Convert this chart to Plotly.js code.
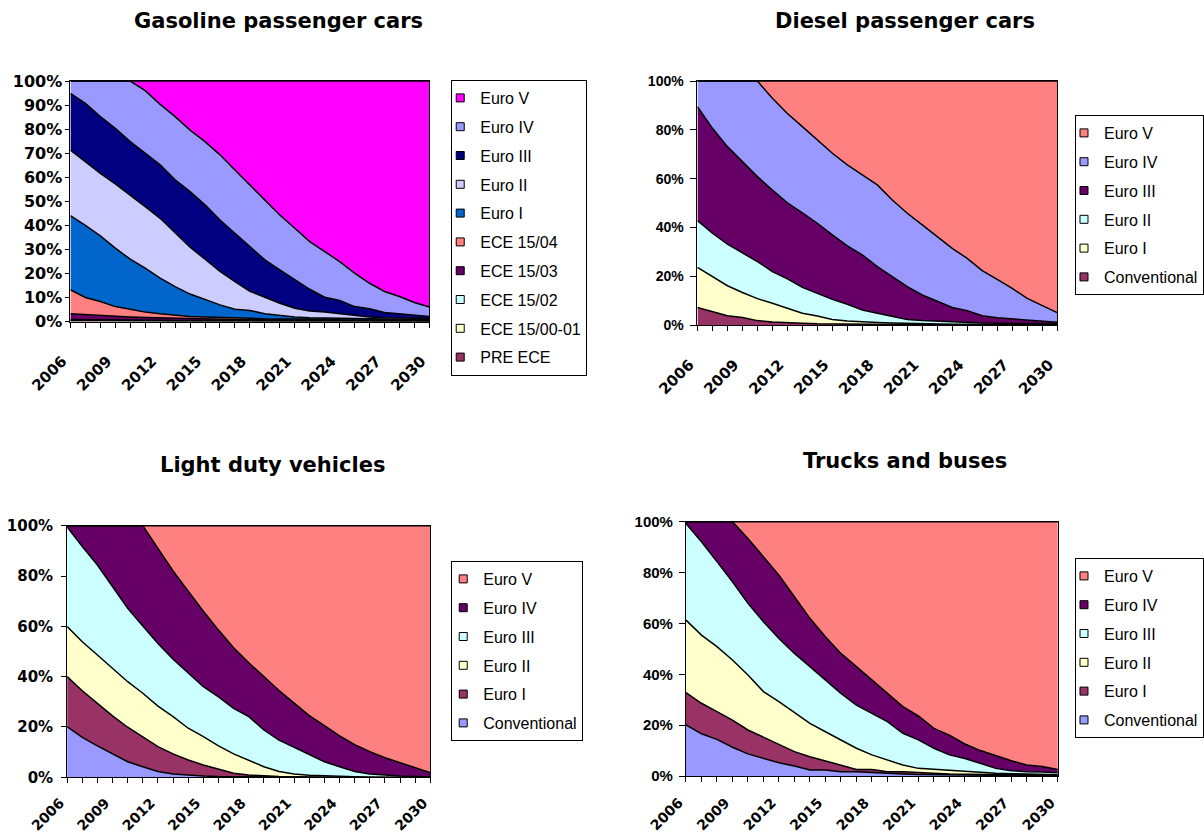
<!DOCTYPE html>
<html>
<head>
<meta charset="utf-8">
<script src="https://cdn.plot.ly/plotly-3.0.1.min.js"></script>
<style>html,body{margin:0;padding:0;background:#fff;}#chart{width:1204px;height:834px;}</style>
</head>
<body>
<div id="chart"></div>
<script>
// ---------- DATA ----------
const years = [2006,2007,2008,2009,2010,2011,2012,2013,2014,2015,2016,2017,2018,2019,2020,2021,2022,2023,2024,2025,2026,2027,2028,2029,2030];
const xTickYears = [2006,2009,2012,2015,2018,2021,2024,2027,2030];
const xTickLabels = ['2006','2009','2012','2015','2018','2021','2024','2027','2030'];
const yTicks10 = [0,10,20,30,40,50,60,70,80,90,100];
const yTickLabels10 = ['0%','10%','20%','30%','40%','50%','60%','70%','80%','90%','100%'];
const yTicks20 = [0,20,40,60,80,100];
const yTickLabels20 = ['0%','20%','40%','60%','80%','100%'];

const chartTitles = ['Gasoline passenger cars','Diesel passenger cars','Light duty vehicles','Trucks and buses'];

// Gasoline passenger cars (% of fleet), bottom to top
const gasNames = ['PRE ECE','ECE 15/00-01','ECE 15/02','ECE 15/03','ECE 15/04','Euro I','Euro II','Euro III','Euro IV','Euro V'];
const gasPreEce  = [0.3,0.3,0.3,0.2,0.2,0.2,0.2,0.1,0.1,0.1,0.1,0.1,0.1,0.1,0.1,0.1,0.1,0.1,0.1,0.1,0.1,0.1,0.1,0.1,0.1];
const gasEce0001 = [0.3,0.3,0.2,0.2,0.2,0.2,0.1,0.1,0.1,0.1,0.1,0.1,0.1,0.1,0.1,0.1,0.1,0.1,0.1,0.1,0.1,0.1,0.1,0.1,0.1];
const gasEce02   = [0.2,0.2,0.2,0.2,0.2,0.2,0.2,0.2,0.2,0.2,0.1,0.1,0.1,0.1,0.1,0.1,0.1,0.1,0.1,0.1,0.1,0.1,0.1,0.1,0.1];
const gasEce03   = [2.4,2.0,1.7,1.5,1.3,1.1,1.0,0.9,0.8,0.7,0.6,0.5,0.5,0.4,0.4,0.3,0.3,0.3,0.2,0.2,0.2,0.2,0.1,0.1,0.1];
const gasEce04   = [10.0,7.2,5.9,4.1,3.2,2.2,1.7,1.3,0.9,0.8,0.7,0.6,0.5,0.4,0.4,0.3,0.3,0.3,0.2,0.2,0.2,0.2,0.1,0.1,0.1];
const gasEuro1   = [30.8,30.0,27.3,24.3,20.8,18.3,14.8,11.9,9.3,7.1,5.3,3.7,3.3,2.1,1.4,1.0,0.7,0.5,0.6,0.5,0.4,0.3,0.4,0.3,0.3];
const gasEuro2   = [27.3,26.5,26.0,26.7,26.7,25.6,24.9,22.5,19.5,16.9,13.9,11.5,7.9,6.9,5.1,3.6,2.8,2.5,1.9,1.2,0.8,0.6,0.5,0.5,0.4];
const gasEuro3   = [23.6,24.2,23.6,23.1,22.2,22.1,22.2,21.9,23.1,22.6,21.4,20.1,18.7,15.5,13.9,11.8,9.0,6.2,5.5,3.8,3.4,2.1,1.8,1.5,0.9];
const gasEuro4   = [5.1,9.3,14.8,19.7,25.2,26.1,25.2,26.3,25.6,26.3,27.1,26.3,25.6,25.0,22.8,21.5,19.8,19.0,16.2,13.9,10.6,8.8,7.2,5.1,3.9];
const gasEuro5   = [0,0,0,0,0,4.0,9.7,14.8,20.4,25.2,30.7,37.0,43.2,49.4,55.7,61.2,66.8,70.9,75.1,79.9,84.1,87.5,89.6,92.1,94.0];
const gasColors  = ['#993366','#FFFFCC','#CCFFFF','#660066','#FF8080','#0066CC','#CCCCFF','#000080','#9999FF','#FF00FF'];

// Diesel passenger cars
const dieNames = ['Conventional','Euro I','Euro II','Euro III','Euro IV','Euro V'];
const dieConv  = [7.2,5.5,3.8,3.1,1.8,1.2,1.1,0.7,0.5,0.4,0.3,0.3,0.2,0.2,0.2,0.1,0.1,0.1,0.1,0.1,0.1,0.1,0.1,0.1,0.1];
const dieEuro1 = [16.4,14.3,12.3,10.2,9.0,7.7,5.7,4.1,3.2,1.9,1.3,0.9,0.8,0.6,0.4,0.4,0.3,0.2,0.2,0.2,0.1,0.1,0.1,0.1,0.1];
const dieEuro2 = [19.2,17.8,17.0,16.3,15.2,13.0,12.1,10.6,9.3,8.2,6.9,4.9,3.8,2.6,1.7,1.3,1.1,0.8,0.7,0.5,0.5,0.4,0.3,0.3,0.3];
const dieEuro3 = [46.7,43.0,40.0,37.3,34.8,33.4,31.2,30.6,28.7,26.4,23.9,22.6,19.1,16.4,13.4,10.5,8.1,6.1,4.9,3.0,2.3,1.9,1.3,0.9,0.6];
const dieEuro4 = [10.5,19.4,26.9,33.1,39.2,37.6,36.6,35.3,34.1,33.5,33.2,32.8,33.5,31.4,30.1,28.7,26.6,24.2,21.4,18.5,15.7,12.5,9.1,6.5,4.0];
const dieEuro5 = [0,0,0,0,0,7.1,13.3,18.7,24.2,29.6,34.4,38.5,42.6,48.8,54.2,59.0,63.8,68.6,72.7,77.7,81.3,85.0,89.1,92.1,94.9];
const dieColors = ['#993366','#FFFFCC','#CCFFFF','#660066','#9999FF','#FF8080'];

// Light duty vehicles
const ldvNames = ['Conventional','Euro I','Euro II','Euro III','Euro IV','Euro V'];
const ldvConv  = [20.1,15.9,12.5,9.3,6.2,4.2,2.3,1.3,0.8,0.5,0.3,0.2,0.1,0.1,0.1,0.1,0,0,0,0,0,0,0,0,0];
const ldvEuro1 = [19.9,18.5,16.9,15.1,13.7,11.7,9.9,8.0,6.1,4.4,2.9,1.4,0.8,0.4,0.2,0.1,0.1,0.1,0.1,0,0,0,0,0,0];
const ldvEuro2 = [19.9,19.5,19.2,18.9,18.1,17.5,16.1,14.8,12.6,11.3,9.3,7.7,5.7,3.7,2.0,1.1,0.7,0.4,0.2,0.2,0.1,0.1,0,0,0];
const ldvEuro3 = [39.6,37.8,35.8,32.5,29.2,26.7,24.9,22.8,21.8,19.8,19.5,18.1,17.5,14.6,12.5,10.6,8.1,5.7,3.9,2.1,1.2,0.7,0.5,0.3,0.2];
const ldvEuro4 = [0.5,8.3,15.6,24.2,32.8,39.9,37.8,35.1,32.7,30.0,26.5,24.1,21.4,21.2,19.7,17.6,15.6,14.3,12.3,10.7,8.9,7.0,5.3,3.5,1.6];
const ldvEuro5 = [0,0,0,0,0,0,9.0,18.0,26.0,34.0,41.5,48.5,54.5,60.0,65.5,70.5,75.5,79.5,83.5,87.0,89.8,92.2,94.2,96.2,98.2];
const ldvColors = ['#9999FF','#993366','#FFFFCC','#CCFFFF','#660066','#FF8080'];

// Trucks and buses
const trkNames = ['Conventional','Euro I','Euro II','Euro III','Euro IV','Euro V'];
const trkConv  = [20.1,16.6,14.4,11.3,8.7,6.9,5.2,3.9,2.4,2.4,1.7,1.7,1.3,1.0,0.8,0.6,0.5,0.4,0.3,0.3,0.2,0.2,0.2,0.1,0.1];
const trkEuro1 = [12.7,12.0,10.9,10.7,9.4,8.3,7.0,5.7,5.2,3.6,2.6,0.9,1.3,0.7,0.9,0.7,0.5,0.4,0.4,0.3,0.3,0.2,0.1,0.2,0.2];
const trkEuro2 = [28.5,26.8,25.6,23.6,21.6,18.0,17.0,15.3,13.1,11.4,9.9,8.3,5.7,4.6,2.6,1.7,1.6,1.3,1.0,0.7,0.6,0.5,0.4,0.3,0.2];
const trkEuro3 = [38.0,36.7,33.4,30.8,28.2,27.5,24.9,23.3,22.3,20.3,18.3,17.0,16.3,15.1,12.5,11.2,8.3,6.2,5.2,3.7,1.9,1.2,1.0,1.0,0.8];
const trkEuro4 = [0.7,7.9,15.7,23.6,25.5,25.5,24.9,22.3,19.0,17.1,15.7,15.1,13.1,11.1,10.5,9.4,7.8,7.8,5.7,5.0,4.9,3.9,2.6,2.1,1.3];
const trkEuro5 = [0,0,0,0,6.6,13.8,21.0,29.5,38.0,45.2,51.8,57.0,62.3,67.5,72.7,76.4,81.3,83.9,87.4,90.0,92.1,94.0,95.7,96.3,97.4];
const trkColors = ['#9999FF','#993366','#FFFFCC','#CCFFFF','#660066','#FF8080'];

// ---------- BUILD ----------
const W = 1204, H = 834;
const px = v => v / W;
const py = v => 1 - v / H;
const ARIAL = 'Liberation Sans, Arial, sans-serif';
const DEJAVU = 'DejaVu Sans, Verdana, sans-serif';

const panels = [
  {names: gasNames, series: [gasPreEce,gasEce0001,gasEce02,gasEce03,gasEce04,gasEuro1,gasEuro2,gasEuro3,gasEuro4,gasEuro5], colors: gasColors,
   xa:'x', ya:'y', lg:'legend', box:[71,433,81,321.5], yt:[yTicks10,yTickLabels10], yfont:{family:DEJAVU,size:16,weight:'bold'}, ytl:4, ystand:0,
   xfont:{family:DEJAVU,size:15,weight:'bold'}, xstand:19, xshift:-8,
   title:[281,21], legendPos:[455,80], indent:-12},
  {names: dieNames, series: [dieConv,dieEuro1,dieEuro2,dieEuro3,dieEuro4,dieEuro5], colors: dieColors,
   xa:'x2', ya:'y2', lg:'legend2', box:[703.3,1066,81,325], yt:[yTicks20,yTickLabels20], yfont:{family:ARIAL,size:14,weight:'bold'}, ytl:6, ystand:4,
   xfont:{family:DEJAVU,size:15,weight:'bold'}, xstand:19, xshift:-8,
   title:[913,21], legendPos:[1084,115], indent:-12},
  {names: ldvNames, series: [ldvConv,ldvEuro1,ldvEuro2,ldvEuro3,ldvEuro4,ldvEuro5], colors: ldvColors,
   xa:'x3', ya:'y3', lg:'legend3', box:[67.7,434,525.7,777.3], yt:[yTicks20,yTickLabels20], yfont:{family:DEJAVU,size:15,weight:'bold'}, ytl:5, ystand:5,
   xfont:{family:DEJAVU,size:14,weight:'bold'}, xstand:6, xshift:-7,
   title:[275,465], legendPos:[455,561], indent:-9},
  {names: trkNames, series: [trkConv,trkEuro1,trkEuro2,trkEuro3,trkEuro4,trkEuro5], colors: trkColors,
   xa:'x4', ya:'y4', lg:'legend4', box:[691.7,1066.7,521.7,776], yt:[yTicks20,yTickLabels20], yfont:{family:ARIAL,size:15,weight:'bold'}, ytl:6, ystand:3,
   xfont:{family:DEJAVU,size:14,weight:'bold'}, xstand:7, xshift:-7,
   title:[913,461], legendPos:[1084,558], indent:-12}
];

const traces = [];
const layout = {
  width: W, height: H,
  margin: {l:0, r:0, t:0, b:0},
  paper_bgcolor: '#fff', plot_bgcolor: '#fff',
  font: {family: ARIAL, color: '#000'},
  annotations: []
};

panels.forEach((p, pi) => {
  const sg = 'stack' + pi;
  p.series.forEach((vals, i) => {
    traces.push({
      type: 'scatter', mode: 'lines', x: years, y: vals,
      name: p.names[i], stackgroup: sg, groupnorm: i === 0 ? 'percent' : undefined,
      fillcolor: p.colors[i], line: {color: '#000', width: 1.5, shape: 'linear'},
      xaxis: p.xa, yaxis: p.ya, showlegend: false, hoverinfo: 'skip'
    });
  });
  // legend entries (top series first, like the reference)
  for (let i = p.series.length - 1; i >= 0; i--) {
    traces.push({
      type: 'scatter', mode: 'markers', x: [null], y: [null],
      name: p.names[i], legend: p.lg, legendgroup: p.lg + '_' + i,
      marker: {symbol: 'square', size: 8, color: p.colors[i], line: {color: '#000', width: 1}},
      xaxis: p.xa, yaxis: p.ya, showlegend: true, hoverinfo: 'skip'
    });
  }
  const xk = p.xa === 'x' ? 'xaxis' : 'xaxis' + p.xa.slice(1);
  const yk = p.ya === 'y' ? 'yaxis' : 'yaxis' + p.ya.slice(1);
  const [x0, x1, y0, y1] = p.box;
  layout[xk] = {
    domain: [px(x0), px(x1)], anchor: p.ya, range: [2006, 2030],
    tickmode: 'array', tickvals: xTickYears, ticktext: xTickLabels, tickangle: -45,
    ticks: 'outside', ticklen: 5, tickcolor: '#000', tickwidth: 1,
    minor: {dtick: 1, tick0: 2006, ticks: 'outside', ticklen: 5, tickcolor: '#000', tickwidth: 1, showgrid: false},
    showline: true, linecolor: '#000', linewidth: 1, mirror: true,
    showgrid: false, zeroline: false, fixedrange: true,
    tickfont: p.xfont, ticklabelstandoff: p.xstand, ticklabelshift: p.xshift
  };
  layout[yk] = {
    domain: [py(y1), py(y0)], anchor: p.xa, range: [0, 100],
    tickmode: 'array', tickvals: p.yt[0], ticktext: p.yt[1],
    ticks: 'outside', ticklen: p.ytl, tickcolor: '#000', tickwidth: 1,
    showline: true, linecolor: '#000', linewidth: 1, mirror: true,
    showgrid: false, zeroline: false, fixedrange: true,
    tickfont: p.yfont, ticklabelstandoff: p.ystand
  };
  layout[p.lg] = {
    x: px(p.legendPos[0]), y: py(p.legendPos[1]), xref: 'paper', yref: 'paper',
    xanchor: 'left', yanchor: 'top', orientation: 'v', indentation: p.indent,
    bgcolor: '#fff', bordercolor: '#000', borderwidth: 1,
    font: {family: ARIAL, size: 16, color: '#000'},
    traceorder: 'grouped', tracegroupgap: 5, itemclick: false, itemdoubleclick: false
  };
  layout.annotations.push({
    text: chartTitles[pi], xref: 'paper', yref: 'paper',
    x: px(p.title[0]), y: py(p.title[1]), xanchor: 'center', yanchor: 'middle',
    showarrow: false, font: {family: DEJAVU, size: 21, weight: 'bold', color: '#000'}
  });
});

Plotly.newPlot('chart', traces, layout, {displayModeBar: false, staticPlot: true});
</script>
</body>
</html>
